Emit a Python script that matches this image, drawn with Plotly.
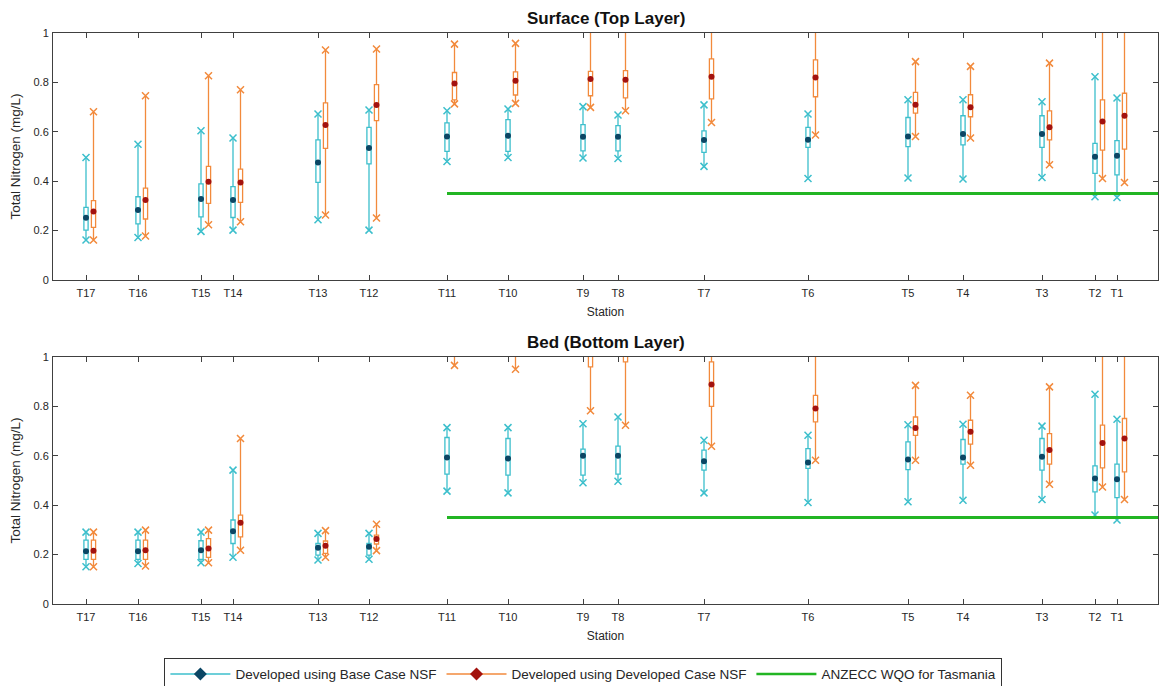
import plotly.graph_objects as go

# ---------------- data ----------------
stations = ["T17", "T16", "T15", "T14", "T13", "T12", "T11", "T10", "T9", "T8",
            "T7", "T6", "T5", "T4", "T3", "T2", "T1"]
station_km = [3.3, 8.5, 14.8, 18.0, 26.5, 31.6, 39.4, 45.5, 53.0, 56.5,
              65.1, 75.5, 85.5, 91.0, 98.9, 104.2, 106.4]
x_max_km = 110.5

wqo_value = 0.35          # ANZECC WQO for Tasmania (mg/L)
wqo_start_station = "T11"

# Surface (Top Layer) - Base Case NSF
top_base_min = [0.162, 0.172, 0.197, 0.202, 0.244, 0.202, 0.480, 0.496, 0.494, 0.492, 0.460, 0.411, 0.413, 0.409, 0.415, 0.337, 0.334]
top_base_q1 = [0.202, 0.227, 0.256, 0.253, 0.395, 0.470, 0.521, 0.521, 0.523, 0.523, 0.517, 0.537, 0.540, 0.547, 0.537, 0.432, 0.426]
top_base_med = [0.252, 0.283, 0.328, 0.324, 0.476, 0.534, 0.581, 0.584, 0.580, 0.580, 0.567, 0.568, 0.581, 0.591, 0.591, 0.499, 0.503]
top_base_q3 = [0.294, 0.337, 0.389, 0.378, 0.567, 0.618, 0.636, 0.649, 0.629, 0.625, 0.604, 0.618, 0.658, 0.665, 0.665, 0.553, 0.564]
top_base_max = [0.496, 0.550, 0.604, 0.575, 0.672, 0.688, 0.685, 0.692, 0.702, 0.668, 0.709, 0.672, 0.730, 0.730, 0.722, 0.823, 0.737]

# Surface (Top Layer) - Developed Case NSF
top_dev_min = [0.162, 0.178, 0.224, 0.236, 0.263, 0.251, 0.713, 0.715, 0.699, 0.685, 0.638, 0.587, 0.581, 0.575, 0.467, 0.411, 0.395]
top_dev_q1 = [0.213, 0.247, 0.310, 0.314, 0.533, 0.645, 0.729, 0.749, 0.746, 0.737, 0.733, 0.742, 0.676, 0.661, 0.567, 0.526, 0.530]
top_dev_med = [0.277, 0.324, 0.398, 0.395, 0.628, 0.709, 0.796, 0.807, 0.814, 0.811, 0.823, 0.820, 0.710, 0.699, 0.618, 0.642, 0.665]
top_dev_q3 = [0.321, 0.372, 0.460, 0.449, 0.717, 0.791, 0.840, 0.843, 0.845, 0.848, 0.895, 0.891, 0.760, 0.750, 0.685, 0.729, 0.756]
top_dev_max = [0.681, 0.746, 0.827, 0.770, 0.931, 0.935, 0.955, 0.958, 1.15, 1.20, 1.10, 1.12, 0.884, 0.865, 0.878, 1.20, 1.25]

# Bed (Bottom Layer) - Base Case NSF
bed_base_min = [0.151, 0.164, 0.167, 0.189, 0.178, 0.181, 0.457, 0.450, 0.491, 0.497, 0.450, 0.411, 0.414, 0.420, 0.423, 0.360, 0.340]
bed_base_q1 = [0.181, 0.181, 0.181, 0.245, 0.198, 0.198, 0.526, 0.522, 0.522, 0.526, 0.542, 0.549, 0.544, 0.566, 0.542, 0.454, 0.431]
bed_base_med = [0.214, 0.214, 0.218, 0.295, 0.228, 0.232, 0.593, 0.589, 0.600, 0.600, 0.578, 0.573, 0.585, 0.593, 0.596, 0.508, 0.505]
bed_base_q3 = [0.259, 0.259, 0.256, 0.340, 0.245, 0.245, 0.674, 0.670, 0.627, 0.639, 0.623, 0.629, 0.656, 0.666, 0.670, 0.559, 0.566]
bed_base_max = [0.291, 0.291, 0.291, 0.542, 0.286, 0.286, 0.714, 0.714, 0.730, 0.757, 0.663, 0.683, 0.726, 0.728, 0.720, 0.849, 0.748]

# Bed (Bottom Layer) - Developed Case NSF
bed_dev_min = [0.151, 0.154, 0.167, 0.218, 0.189, 0.216, 0.966, 0.950, 0.782, 0.724, 0.639, 0.582, 0.582, 0.562, 0.485, 0.474, 0.423]
bed_dev_q1 = [0.181, 0.181, 0.189, 0.272, 0.205, 0.243, 1.05, 1.04, 0.960, 0.980, 0.800, 0.737, 0.683, 0.647, 0.566, 0.551, 0.535]
bed_dev_med = [0.216, 0.218, 0.225, 0.329, 0.236, 0.263, 1.12, 1.10, 1.05, 1.08, 0.889, 0.791, 0.713, 0.697, 0.623, 0.652, 0.670]
bed_dev_q3 = [0.259, 0.259, 0.265, 0.360, 0.255, 0.279, 1.20, 1.18, 1.15, 1.18, 0.980, 0.845, 0.757, 0.744, 0.690, 0.724, 0.751]
bed_dev_max = [0.291, 0.299, 0.299, 0.670, 0.297, 0.323, 1.35, 1.32, 1.30, 1.30, 1.15, 1.12, 0.885, 0.845, 0.879, 1.20, 1.25]

panel_titles = ["Surface (Top Layer)", "Bed (Bottom Layer)"]
series_names = ["Developed using Base Case NSF", "Developed using Developed Case NSF",
                "ANZECC WQO for Tasmania"]

# ---------------- style ----------------
FONT = "Liberation Sans, Arial, sans-serif"
C_BASE = "#3cbfcc"
C_BASE_DOT = "#0b4664"
C_DEV = "#f28a3c"
C_DEV_DOT = "#a3120e"
C_WQO = "#22b523"
AX = "#404040"
DEV_OFFSET = 0.75
BOX_W = 0.42

fig = go.Figure()

panels = [
    ("x", "y", (top_base_min, top_base_q1, top_base_med, top_base_q3, top_base_max),
     (top_dev_min, top_dev_q1, top_dev_med, top_dev_q3, top_dev_max)),
    ("x2", "y2", (bed_base_min, bed_base_q1, bed_base_med, bed_base_q3, bed_base_max),
     (bed_dev_min, bed_dev_q1, bed_dev_med, bed_dev_q3, bed_dev_max)),
]

for xa, ya, base, dev in panels:
    for stats, off, col, dcol in [(base, 0.0, C_BASE, C_BASE_DOT), (dev, DEV_OFFSET, C_DEV, C_DEV_DOT)]:
        mn, q1, md, q3, mx = stats
        xs = [p + off for p in station_km]
        fig.add_trace(go.Box(
            x=xs, q1=q1, median=md, q3=q3, lowerfence=mn, upperfence=mx,
            width=BOX_W, whiskerwidth=0, boxpoints=False,
            fillcolor="white", line=dict(color=col, width=1.3),
            xaxis=xa, yaxis=ya, showlegend=False, hoverinfo="skip"))
        # min / max crosses
        fig.add_trace(go.Scatter(
            x=xs + xs, y=mn + mx, mode="markers",
            marker=dict(symbol="x-thin", size=7, line=dict(color=col, width=1.5)),
            xaxis=xa, yaxis=ya, showlegend=False, hoverinfo="skip"))
        # median dots
        fig.add_trace(go.Scatter(
            x=xs, y=md, mode="markers",
            marker=dict(symbol="circle", size=6, color=dcol),
            xaxis=xa, yaxis=ya, showlegend=False, hoverinfo="skip"))
    # WQO line
    x0 = station_km[stations.index(wqo_start_station)]
    fig.add_trace(go.Scatter(
        x=[x0, x_max_km], y=[wqo_value, wqo_value], mode="lines",
        line=dict(color=C_WQO, width=3), xaxis=xa, yaxis=ya,
        showlegend=False, hoverinfo="skip"))

# legend entries
fig.add_trace(go.Scatter(x=[None], y=[None], mode="lines+markers", name=series_names[0],
                         line=dict(color=C_BASE, width=1.5),
                         marker=dict(symbol="diamond", size=10, color=C_BASE_DOT)))
fig.add_trace(go.Scatter(x=[None], y=[None], mode="lines+markers", name=series_names[1],
                         line=dict(color=C_DEV, width=1.5),
                         marker=dict(symbol="diamond", size=10, color=C_DEV_DOT)))
fig.add_trace(go.Scatter(x=[None], y=[None], mode="lines", name=series_names[2],
                         line=dict(color=C_WQO, width=2.5)))

xcommon = dict(range=[0, x_max_km], tickmode="array", tickvals=station_km, ticktext=stations,
               ticks="inside", ticklen=5, tickcolor=AX, showline=True, linecolor=AX, linewidth=1,
               mirror="ticks", showgrid=False, zeroline=False, automargin=False,
               ticklabelstandoff=3,
               tickfont=dict(family=FONT, size=11, color="#262626"),
               title=dict(text="Station", font=dict(family=FONT, size=12, color="#262626"), standoff=9))
ycommon = dict(range=[0, 1], tickmode="array", tickvals=[0, 0.2, 0.4, 0.6, 0.8, 1],
               ticktext=["0", "0.2", "0.4", "0.6", "0.8", "1"],
               ticks="inside", ticklen=5, tickcolor=AX, showline=True, linecolor=AX, linewidth=1,
               mirror="ticks", showgrid=False, zeroline=False, automargin=False,
               ticklabelstandoff=1,
               tickfont=dict(family=FONT, size=11, color="#262626"),
               title=dict(text="Total Nitrogen (mg/L)", font=dict(family=FONT, size=13.5, color="#262626"),
                          standoff=9))

fig.update_layout(
    width=1159, height=686,
    margin=dict(l=53, r=1, t=33, b=82, autoexpand=False),
    paper_bgcolor="white", plot_bgcolor="white",
    boxmode="overlay",
    font=dict(family=FONT, color="#262626"),
    xaxis=dict(domain=[0, 1], anchor="y", **xcommon),
    yaxis=dict(domain=[0.5674, 1.0], anchor="x", **ycommon),
    xaxis2=dict(domain=[0, 1], anchor="y2", **xcommon),
    yaxis2=dict(domain=[0, 0.4326], anchor="x2", **ycommon),
    legend=dict(orientation="h", x=0.480, xanchor="center", y=-0.094, yanchor="top",
                bordercolor="#333", borderwidth=1, bgcolor="white",
                font=dict(family=FONT, size=13.5, color="#262626"),
                itemwidth=60, tracegroupgap=0),
    annotations=[
        dict(text="<b>" + panel_titles[0] + "</b>", x=0.5, y=1.0, xref="paper", yref="paper",
             xanchor="center", yanchor="bottom", yshift=3, showarrow=False,
             font=dict(family=FONT, size=17, color="#111")),
        dict(text="<b>" + panel_titles[1] + "</b>", x=0.5, y=0.4326, xref="paper", yref="paper",
             xanchor="center", yanchor="bottom", yshift=3, showarrow=False,
             font=dict(family=FONT, size=17, color="#111")),
    ],
)

fig.write_html("out.html", config={"displayModeBar": False},
               post_script="document.body.style.margin='0';")
